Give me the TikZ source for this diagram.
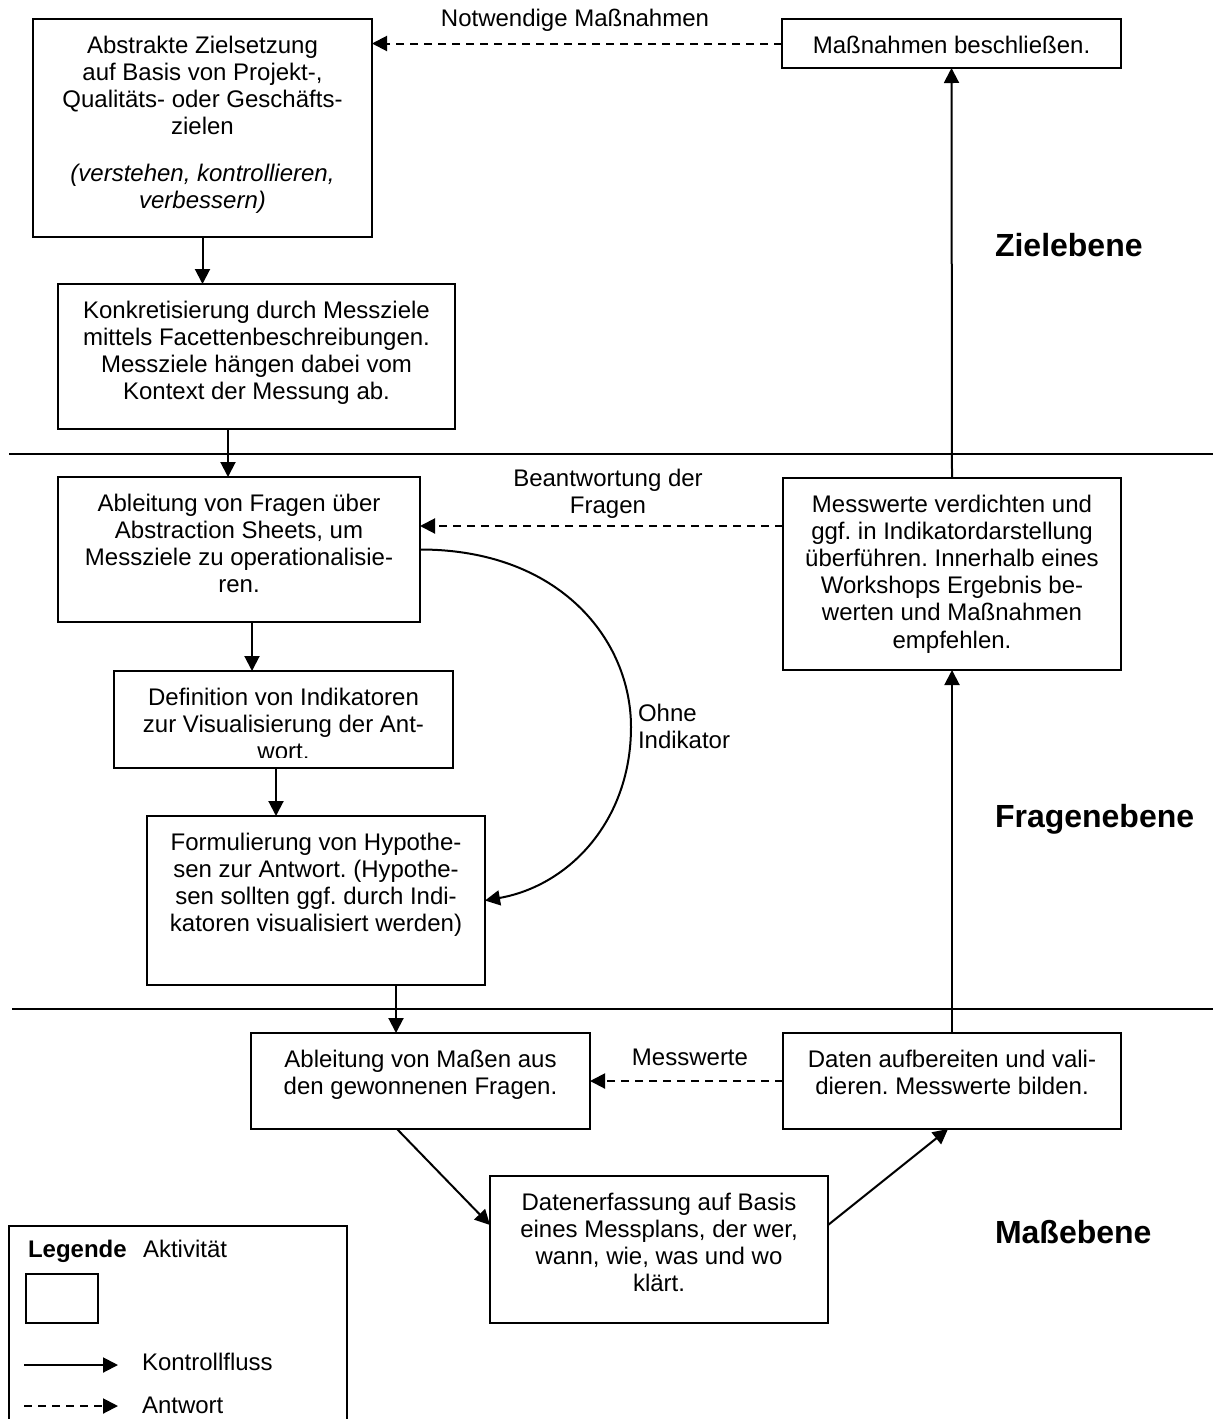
\documentclass[tikz,border=0pt]{standalone}
\usepackage{fontspec}
\setmainfont{Liberation Sans}[Ligatures=CommonOff]
\usetikzlibrary{arrows.meta}
\frenchspacing
% fixed-height strut so that every text block starts its first baseline at the same depth
\newcommand{\fstrut}{\rule{0pt}{10pt}}
\begin{document}
\begin{tikzpicture}[x=0.5pt,y=-0.5pt,
  every node/.style={inner sep=0pt, outer sep=0pt},
  act/.style={draw, line width=1pt, anchor=north west},
  txt/.style={anchor=north, align=center, font=\fontsize{12}{13.6}\selectfont},
  lbl/.style={font=\fontsize{12}{13.6}\selectfont},
  lvl/.style={anchor=base west, font=\fontsize{16}{18}\selectfont\bfseries},
  flow/.style={line width=1pt, -{Triangle[length=7.5pt,width=7.5pt]}},
  answer/.style={flow, dash pattern=on 4pt off 3pt},
  sep/.style={line width=1pt}
]
\useasboundingbox (0,0) rectangle (1213,1419);

% ---------------- level dividers ----------------
\coordinate (s1a) at (9,454);   \coordinate (s1b) at (1213,454);
\coordinate (s2a) at (12,1009); \coordinate (s2b) at (1213,1009);
\draw[sep] (s1a) -- (s1b);
\draw[sep] (s2a) -- (s2b);

% ---------------- activities ----------------
\node[act, minimum width=169.5pt, minimum height=109pt] (b1) at (33,19) {};
\node[txt] (t1) at ([yshift=-7pt]b1.north) {\fstrut Abstrakte Zielsetzung\\ auf Basis von Projekt-,\\ Qualitäts- oder Geschäfts-\\ zielen\\[9.6pt] \textit{(verstehen, kontrollieren,}\\ \textit{verbessern)}};

\node[act, minimum width=198.5pt, minimum height=72.5pt] (b2) at (58,284) {};
\node[txt] (t2) at ([yshift=-7pt]b2.north) {\fstrut Konkretisierung durch Messziele\\ mittels Facettenbeschreibungen.\\ Messziele hängen dabei vom\\ Kontext der Messung ab.};

\node[act, minimum width=181pt, minimum height=72.5pt] (b3) at (58,477) {};
\node[txt] (t3) at ([yshift=-7pt]b3.north) {\fstrut Ableitung von Fragen über\\ Abstraction Sheets, um\\ Messziele zu operationalisie-\\ ren.};

\node[act, minimum width=169.5pt, minimum height=48.5pt] (b4) at (114,671) {};
\begin{scope}
  \clip (b4.north west) rectangle ([yshift=5.5pt]b4.south east);
  \node[txt] (t4) at ([yshift=-7pt]b4.north) {\fstrut Definition von Indikatoren\\ zur Visualisierung der Ant-\\ wort.};
\end{scope}

\node[act, minimum width=169pt, minimum height=84.5pt] (b5) at (147,816) {};
\node[txt] (t5) at ([yshift=-7pt]b5.north) {\fstrut Formulierung von Hypothe-\\ sen zur Antwort. (Hypothe-\\ sen sollten ggf. durch Indi-\\ katoren visualisiert werden)};

\node[act, minimum width=169.5pt, minimum height=24.5pt] (bm) at (782,19) {};
\node[txt] (tm) at ([yshift=-7pt]bm.north) {\fstrut Maßnahmen beschließen.};

\node[act, minimum width=169pt, minimum height=96pt] (bv) at (783,478) {};
\node[txt] (tv) at ([yshift=-7pt]bv.north) {\fstrut Messwerte verdichten und\\ ggf. in Indikatordarstellung\\ überführen. Innerhalb eines\\ Workshops Ergebnis be-\\ werten und Maßnahmen\\ empfehlen.};

\node[act, minimum width=169.5pt, minimum height=48pt] (b6) at (251,1033) {};
\node[txt] (t6) at ([yshift=-7pt]b6.north) {\fstrut Ableitung von Maßen aus\\ den gewonnenen Fragen.};

\node[act, minimum width=169pt, minimum height=48pt] (b7) at (783,1033) {};
\node[txt] (t7) at ([yshift=-7pt]b7.north) {\fstrut Daten aufbereiten und vali-\\ dieren. Messwerte bilden.};

\node[act, minimum width=169pt, minimum height=73.5pt] (b8) at (490,1176) {};
\node[txt] (t8) at ([yshift=-7pt]b8.north) {\fstrut Datenerfassung auf Basis\\ eines Messplans, der wer,\\ wann, wie, was und wo\\ klärt.};

% ---------------- control flow ----------------
\draw[flow] (b1.south) -- (b1.south |- b2.north);
\draw[flow] ([xshift=-14.25pt]b2.south) coordinate (a2s) -- (a2s |- b3.north);
\draw[flow] ([xshift=6.5pt]b3.south) coordinate (a3s) -- (a3s |- b4.north);
\draw[flow] ([xshift=-3.75pt]b4.south) coordinate (a4s) -- (a4s |- b5.north);
\draw[flow] ([xshift=40pt]b5.south) coordinate (a5s) -- (a5s |- b6.north);
\draw[flow] ([xshift=-11.75pt]b6.south) -- ([yshift=12.25pt]b8.west);
\draw[flow] ([yshift=12.25pt]b8.east) -- ([xshift=-2pt]b7.south);
\draw[flow] (b7.north) -- (bv.south);
\draw[flow] (bv.north) -- (bm.south);

% bypass without indicators
\coordinate (c1) at (631,727);
\draw[flow] (b3.east) .. controls +(140,0) and +(0,-87) .. (c1)
                      .. controls +(0,93) and +(85,-15) .. (b5.east);
\node[txt, anchor=north west, align=left] (lohne) at (638,701.6) {\fstrut Ohne\\ Indikator};

% ---------------- answers ----------------
\draw[answer] (bm.west) -- (bm.west -| b1.east);
\node[lbl, anchor=base] (lnot) at (575,26.6) {Notwendige Maßnahmen};

\draw[answer] ([yshift=24pt]bv.west) coordinate (d2s) -- (d2s -| b3.east);
\node[txt] (lbeant) at (608,466.6) {\fstrut Beantwortung der\\ Fragen};

\draw[answer] (b7.west) -- (b7.west -| b6.east);
\node[lbl, anchor=base] (lmess) at (690,1065.6) {Messwerte};

% ---------------- level names ----------------
\node[lvl] (lziel) at (995,256.5) {Zielebene};
\node[lvl] (lfrag) at (995,827.5) {Fragenebene};
\node[lvl] (lmass) at (995,1243.5) {Maßebene};

% ---------------- legend ----------------
\draw[sep] (9,1419) -- (9,1226) -- (347,1226) -- (347,1419);
\node[lbl, anchor=base west, font=\fontsize{12}{13.6}\selectfont\bfseries] (lleg) at (28,1257) {Legende};
\node[lbl, anchor=base west] (lakt) at (143,1257) {Aktivität};
\node[act, minimum width=36pt, minimum height=24.5pt] (lbox) at (26,1274) {};
\coordinate (k1) at (24,1365); \coordinate (k2) at (118,1365);
\draw[flow] (k1) -- (k2);
\node[lbl, anchor=base west] (lkon) at (142,1370) {Kontrollfluss};
\coordinate (r1) at (24,1406); \coordinate (r2) at (118,1406);
\draw[answer] (r1) -- (r2);
\node[lbl, anchor=base west] (lant) at (142,1413) {Antwort};
\end{tikzpicture}
\end{document}
